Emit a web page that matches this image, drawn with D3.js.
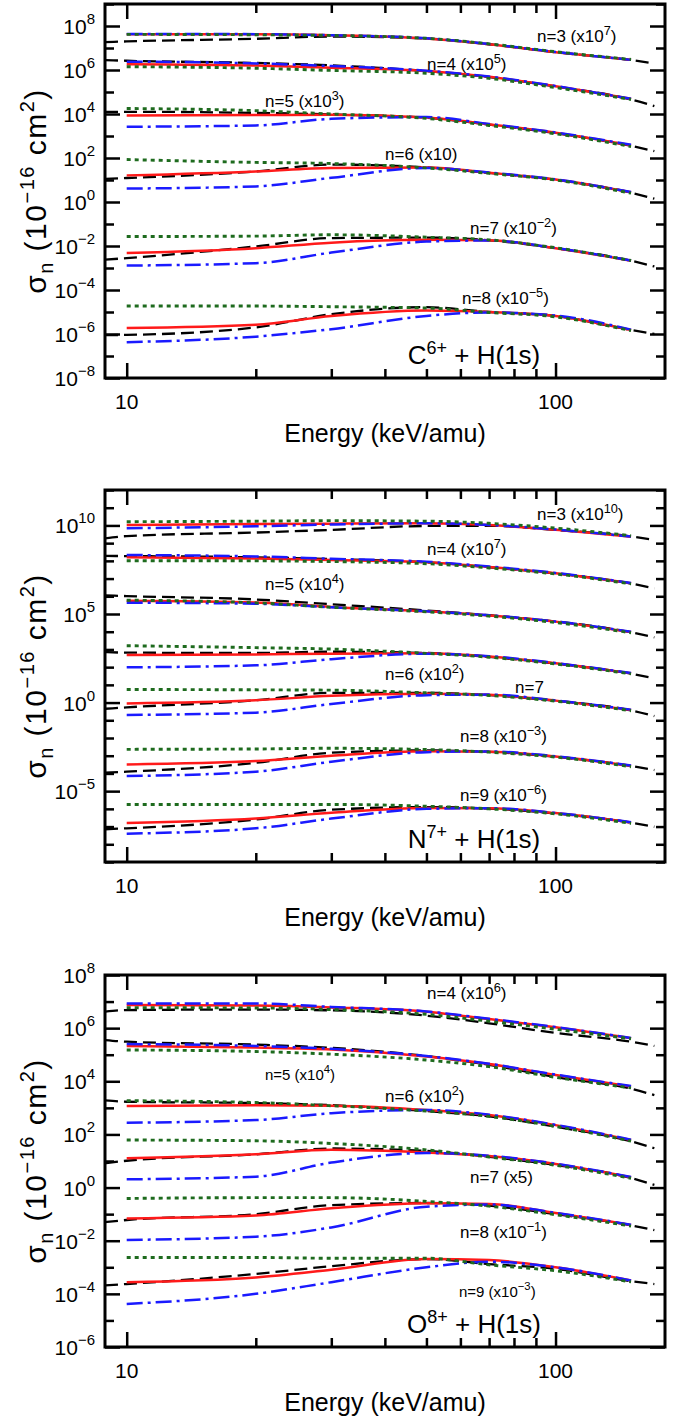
<!DOCTYPE html>
<html>
<head>
<meta charset="utf-8">
<script src="https://cdn.jsdelivr.net/npm/d3@7"></script>
<style>
  body { margin: 0; background: #fff; }
  text { font-family: "Liberation Sans", Arial, Helvetica, sans-serif; fill: #000; }
</style>
</head>
<body>
<svg id="chart" width="690" height="1417"></svg>
<script>
// energies (keV/amu) of the red / blue / green curves, and of the black dashed curves
var energy = [10, 20, 30, 50, 70, 100, 150];
var energyBlack = [8.9, 10, 20, 30, 50, 70, 100, 150, 170];
var xTickMajor = [10, 100];
var xTickMinor = [20, 30, 40, 50, 60, 70, 80, 90];

// all sigma values are log10 of the plotted (scaled) cross section, 10^-16 cm^2

// ---- C6+ + H(1s)
var c6States = [3, 4, 5, 6, 7, 8];
var c6Factors = ["7", "5", "3", "", "\u22122", "\u22125"];
var c6Red = [
  [7.62, 7.62, 7.58, 7.43, 7.17, 6.81, 6.46],
  [6.26, 6.20, 6.10, 5.95, 5.69, 5.26, 4.69],
  [3.93, 3.95, 3.97, 3.84, 3.53, 3.15, 2.58],
  [1.21, 1.39, 1.55, 1.57, 1.33, 1.02, 0.44],
  [-2.32, -2.10, -1.85, -1.72, -1.74, -2.10, -2.67],
  [-5.73, -5.58, -5.18, -4.93, -5.00, -5.18, -5.82]
];
var c6Blue = [
  [7.64, 7.63, 7.58, 7.44, 7.18, 6.82, 6.46],
  [6.38, 6.30, 6.18, 5.97, 5.70, 5.27, 4.69],
  [3.42, 3.48, 3.78, 3.86, 3.55, 3.16, 2.60],
  [0.61, 0.71, 1.10, 1.55, 1.34, 1.03, 0.45],
  [-2.89, -2.78, -2.30, -1.80, -1.75, -2.09, -2.66],
  [-6.37, -6.12, -5.78, -5.18, -5.02, -5.16, -5.80]
];
var c6Green = [
  [7.62, 7.60, 7.57, 7.44, 7.19, 6.83, 6.48],
  [6.15, 6.08, 5.98, 5.85, 5.62, 5.20, 4.66],
  [4.25, 4.15, 4.00, 3.80, 3.48, 3.10, 2.52],
  [1.93, 1.80, 1.75, 1.55, 1.30, 1.00, 0.40],
  [-1.57, -1.55, -1.49, -1.60, -1.72, -2.08, -2.66],
  [-4.73, -4.73, -4.76, -4.82, -5.02, -5.22, -5.85]
];
var c6Black = [
  [7.27, 7.30, 7.42, 7.52, 7.43, 7.17, 6.81, 6.45, 6.30],
  [6.45, 6.42, 6.32, 6.21, 5.95, 5.68, 5.25, 4.66, 4.36],
  [4.10, 4.10, 4.05, 3.98, 3.83, 3.52, 3.13, 2.55, 2.31],
  [1.05, 1.09, 1.39, 1.70, 1.57, 1.32, 1.01, 0.42, 0.15],
  [-2.62, -2.55, -2.02, -1.64, -1.62, -1.74, -2.10, -2.67, -2.93],
  [-6.05, -6.04, -5.70, -5.10, -4.78, -5.00, -5.18, -5.82, -6.00]
];

// ---- N7+ + H(1s)
var n7States = [3, 4, 5, 6, 7, 8, 9];
var n7Factors = ["10", "7", "4", "2", null, "\u22123", "\u22126"];
var n7Red = [
  [10.02, 10.08, 10.10, 10.12, 10.02, 9.76, 9.36],
  [8.20, 8.13, 8.05, 7.92, 7.65, 7.30, 6.73],
  [5.75, 5.65, 5.40, 5.15, 4.92, 4.57, 3.98],
  [2.68, 2.72, 2.76, 2.78, 2.60, 2.22, 1.65],
  [-0.05, 0.13, 0.38, 0.50, 0.44, 0.11, -0.42],
  [-3.49, -3.30, -3.00, -2.75, -2.77, -3.04, -3.57],
  [-6.80, -6.55, -6.22, -5.95, -5.97, -6.24, -6.77]
];
var n7Blue = [
  [9.84, 9.95, 10.05, 10.12, 10.03, 9.77, 9.37],
  [8.33, 8.25, 8.12, 7.95, 7.68, 7.32, 6.75],
  [5.64, 5.58, 5.38, 5.15, 4.93, 4.58, 4.00],
  [1.99, 2.10, 2.45, 2.76, 2.62, 2.23, 1.67],
  [-0.70, -0.57, -0.08, 0.42, 0.45, 0.12, -0.40],
  [-4.15, -3.90, -3.34, -2.80, -2.76, -3.03, -3.55],
  [-7.40, -7.10, -6.55, -6.00, -5.96, -6.23, -6.75]
];
var n7Green = [
  [10.21, 10.24, 10.27, 10.24, 10.12, 9.85, 9.42],
  [8.01, 8.00, 7.96, 7.84, 7.60, 7.26, 6.70],
  [5.78, 5.63, 5.38, 5.12, 4.88, 4.52, 3.94],
  [3.21, 3.10, 3.02, 2.78, 2.56, 2.18, 1.62],
  [0.74, 0.72, 0.70, 0.55, 0.40, 0.08, -0.46],
  [-2.64, -2.62, -2.58, -2.65, -2.80, -3.08, -3.62],
  [-5.75, -5.75, -5.75, -5.85, -6.00, -6.28, -6.82]
];
var n7Black = [
  [9.27, 9.40, 9.60, 9.75, 9.97, 9.98, 9.74, 9.38, 9.18],
  [8.28, 8.27, 8.20, 8.10, 7.92, 7.64, 7.29, 6.72, 6.45],
  [6.05, 6.01, 5.82, 5.55, 5.20, 4.93, 4.58, 3.97, 3.68],
  [2.85, 2.82, 2.80, 2.87, 2.80, 2.58, 2.20, 1.63, 1.37],
  [-0.35, -0.27, 0.13, 0.55, 0.55, 0.42, 0.10, -0.44, -0.76],
  [-3.95, -3.90, -3.40, -2.83, -2.70, -2.78, -3.06, -3.58, -3.81],
  [-7.15, -7.10, -6.60, -6.05, -5.90, -5.98, -6.26, -6.78, -7.01]
];

// ---- O8+ + H(1s)
var o8States = [4, 5, 6, 7, 8, 9];
var o8Factors = ["6", "4", "2", "5", "\u22121", "\u22123"];
var o8Red = [
  [6.87, 6.85, 6.78, 6.62, 6.34, 6.03, 5.62],
  [5.33, 5.27, 5.20, 4.93, 4.65, 4.24, 3.80],
  [3.07, 3.10, 3.08, 2.92, 2.73, 2.35, 1.79],
  [1.10, 1.25, 1.42, 1.32, 1.19, 0.89, 0.39],
  [-1.16, -1.05, -0.78, -0.59, -0.62, -0.96, -1.41],
  [-3.56, -3.38, -3.09, -2.69, -2.73, -3.00, -3.50]
];
var o8Blue = [
  [6.93, 6.93, 6.80, 6.63, 6.35, 6.04, 5.63],
  [5.40, 5.33, 5.22, 4.95, 4.66, 4.25, 3.82],
  [2.44, 2.54, 2.80, 2.92, 2.74, 2.36, 1.80],
  [0.31, 0.41, 0.94, 1.30, 1.20, 0.90, 0.40],
  [-1.97, -1.85, -1.50, -0.72, -0.64, -0.95, -1.40],
  [-4.38, -4.00, -3.56, -3.00, -2.79, -3.00, -3.50]
];
var o8Green = [
  [6.77, 6.76, 6.70, 6.52, 6.26, 5.96, 5.60],
  [5.18, 5.12, 5.02, 4.80, 4.55, 4.15, 3.75],
  [3.27, 3.20, 3.08, 2.88, 2.68, 2.30, 1.75],
  [1.79, 1.76, 1.66, 1.42, 1.15, 0.84, 0.35],
  [-0.41, -0.38, -0.38, -0.52, -0.70, -1.02, -1.45],
  [-2.63, -2.63, -2.66, -2.66, -2.91, -3.13, -3.55]
];
var o8Black = [
  [6.62, 6.68, 6.70, 6.67, 6.47, 6.18, 5.82, 5.49, 5.33],
  [5.55, 5.49, 5.38, 5.26, 4.95, 4.62, 4.16, 3.72, 3.48],
  [3.28, 3.23, 3.18, 3.10, 2.88, 2.68, 2.29, 1.74, 1.48],
  [0.92, 1.01, 1.25, 1.47, 1.38, 1.16, 0.85, 0.36, 0.10],
  [-1.30, -1.22, -1.00, -0.66, -0.58, -0.68, -1.00, -1.42, -1.60],
  [-3.68, -3.63, -3.25, -2.96, -2.69, -2.88, -3.06, -3.52, -3.63]
];

var svg = d3.select("#chart");
var left = 105, right = 665;

var x = d3.scaleLog().domain([8.9, 180]).range([left, right]);

var lineStyles = {
  black: {color: "#000", width: 2.3, dash: "13,6"},
  red:   {color: "#ff1a1a", width: 2.5, dash: null},
  blue:  {color: "#1a1aff", width: 2.5, dash: "16,5,3,5"},
  green: {color: "#1e6b1e", width: 2.9, dash: "4,4"}
};

// panel layout
var panels = [
  {id: "c6", top: 4, bottom: 378, yMin: -8, yMax: 9, labelStep: 2,
   ion: "C", charge: "6+", states: c6States, factors: c6Factors,
   red: c6Red, blue: c6Blue, green: c6Green, black: c6Black,
   labels: [[537, 42, 17], [427, 70, 17], [265, 107, 17], [385, 160, 17], [470, 234, 17], [462, 304, 17]]},
  {id: "n7", top: 490, bottom: 862, yMin: -9, yMax: 12, labelStep: 5,
   ion: "N", charge: "7+", states: n7States, factors: n7Factors,
   red: n7Red, blue: n7Blue, green: n7Green, black: n7Black,
   labels: [[537, 520, 17], [427, 555, 17], [265, 590, 17], [385, 680, 17], [515, 693, 17], [460, 742, 17], [460, 801, 17]]},
  {id: "o8", top: 975, bottom: 1347, yMin: -6, yMax: 8, labelStep: 2,
   ion: "O", charge: "8+", states: o8States, factors: o8Factors,
   red: o8Red, blue: o8Blue, green: o8Green, black: o8Black,
   labels: [[427, 999, 17], [265, 1080, 15], [385, 1102, 17], [470, 1183, 17], [460, 1238, 17], [459, 1297, 15]]}
];

panels.forEach(drawPanel);

function drawPanel(p) {
  var y = d3.scaleLinear().domain([p.yMin, p.yMax]).range([p.bottom, p.top]);
  var g = svg.append("g");

  g.append("clipPath").attr("id", "clip-" + p.id)
    .append("rect")
    .attr("x", left).attr("y", p.top)
    .attr("width", right - left).attr("height", p.bottom - p.top);

  var curves = g.append("g").attr("clip-path", "url(#clip-" + p.id + ")");

  var line = function(xs) {
    return d3.line()
      .x(function(d, i) { return x(xs[i]); })
      .y(function(d) { return y(d); })
      .curve(d3.curveMonotoneX);
  };

  var groups = [
    {key: "black", rows: p.black, xs: energyBlack},
    {key: "red", rows: p.red, xs: energy},
    {key: "blue", rows: p.blue, xs: energy},
    {key: "green", rows: p.green, xs: energy}
  ];
  groups.forEach(function(s) {
    var st = lineStyles[s.key];
    curves.selectAll("path." + s.key)
      .data(s.rows)
      .enter()
      .append("path")
      .attr("class", s.key)
      .attr("fill", "none")
      .attr("stroke", st.color)
      .attr("stroke-width", st.width)
      .attr("stroke-dasharray", st.dash)
      .attr("d", line(s.xs));
  });

  // ticks, all pointing inwards
  var decades = d3.range(p.yMin, p.yMax + 1);
  var yMajor = decades.filter(function(d) { return d % p.labelStep === 0; });
  var yMinor = decades.filter(function(d) { return d % p.labelStep !== 0; });

  function tickGroup(axis, tx, ty) {
    var a = g.append("g")
      .attr("transform", "translate(" + tx + "," + ty + ")")
      .call(axis);
    a.select(".domain").remove();
    a.selectAll("line").attr("stroke", "#000").attr("stroke-width", 2.5);
    a.selectAll("text").remove();
  }
  tickGroup(d3.axisLeft(y).tickValues(yMajor).tickSize(-15), left, 0);
  tickGroup(d3.axisLeft(y).tickValues(yMinor).tickSize(-9), left, 0);
  tickGroup(d3.axisRight(y).tickValues(yMajor).tickSize(-15), right, 0);
  tickGroup(d3.axisRight(y).tickValues(yMinor).tickSize(-9), right, 0);
  tickGroup(d3.axisBottom(x).tickValues(xTickMajor).tickSize(-15), 0, p.bottom);
  tickGroup(d3.axisBottom(x).tickValues(xTickMinor).tickSize(-9), 0, p.bottom);
  tickGroup(d3.axisTop(x).tickValues(xTickMajor).tickSize(-15), 0, p.top);
  tickGroup(d3.axisTop(x).tickValues(xTickMinor).tickSize(-9), 0, p.top);

  // frame
  g.append("rect")
    .attr("x", left).attr("y", p.top)
    .attr("width", right - left).attr("height", p.bottom - p.top)
    .attr("fill", "none").attr("stroke", "#000").attr("stroke-width", 3);

  // y tick labels 10^k
  g.selectAll("text.ylab")
    .data(yMajor)
    .enter()
    .append("text")
    .attr("class", "ylab")
    .attr("text-anchor", "end")
    .attr("x", 95)
    .attr("y", function(d) { return y(d) + 8; })
    .attr("font-size", 21)
    .each(function(d) {
      var t = d3.select(this);
      t.append("tspan").text("10");
      t.append("tspan").attr("dy", -10).attr("font-size", 15)
        .text(d < 0 ? "\u2212" + (-d) : String(d));
    });

  // x tick labels
  g.selectAll("text.xlab")
    .data(xTickMajor)
    .enter()
    .append("text")
    .attr("class", "xlab")
    .attr("text-anchor", "middle")
    .attr("x", function(d) { return x(d); })
    .attr("y", p.bottom + 31)
    .attr("font-size", 21)
    .text(function(d) { return d; });

  // axis titles
  g.append("text")
    .attr("text-anchor", "middle")
    .attr("x", (left + right) / 2)
    .attr("y", p.bottom + 64)
    .attr("font-size", 25)
    .text("Energy (keV/amu)");

  var yt = g.append("text")
    .attr("text-anchor", "middle")
    .attr("font-size", 30)
    .attr("letter-spacing", 1.5)
    .attr("transform", "translate(46," + ((p.top + p.bottom) / 2) + ") rotate(-90)");
  yt.append("tspan").text("\u03c3");
  yt.append("tspan").attr("dy", 7).attr("font-size", 20).text("n");
  yt.append("tspan").attr("dy", -7).text(" (10");
  yt.append("tspan").attr("dy", -12).attr("font-size", 20).text("\u221216");
  yt.append("tspan").attr("dy", 12).text(" cm");
  yt.append("tspan").attr("dy", -12).attr("font-size", 20).text("2");
  yt.append("tspan").attr("dy", 12).text(")");

  // curve labels: n=.. (x10^k)
  p.states.forEach(function(n, i) {
    var pos = p.labels[i];
    var f = p.factors[i];
    var t = g.append("text")
      .attr("x", pos[0]).attr("y", pos[1])
      .attr("font-size", pos[2]);
    if (f === null) {
      t.text("n=" + n);
    } else if (f === "") {
      t.text("n=" + n + " (x10)");
    } else if (p.id === "o8" && n === 7) {
      t.text("n=" + n + " (x" + f + ")");
    } else {
      t.append("tspan").text("n=" + n + " (x10");
      t.append("tspan").attr("dy", -7).attr("font-size", pos[2] * 0.75).text(f);
      t.append("tspan").attr("dy", 7).text(")");
    }
  });

  // collision system label
  var sys = g.append("text")
    .attr("text-anchor", "middle")
    .attr("x", 474)
    .attr("y", p.bottom - 14)
    .attr("font-size", 26);
  sys.append("tspan").text(p.ion);
  sys.append("tspan").attr("dy", -10).attr("font-size", 18).text(p.charge);
  sys.append("tspan").attr("dy", 10).text(" + H(1s)");
}
</script>
</body>
</html>
